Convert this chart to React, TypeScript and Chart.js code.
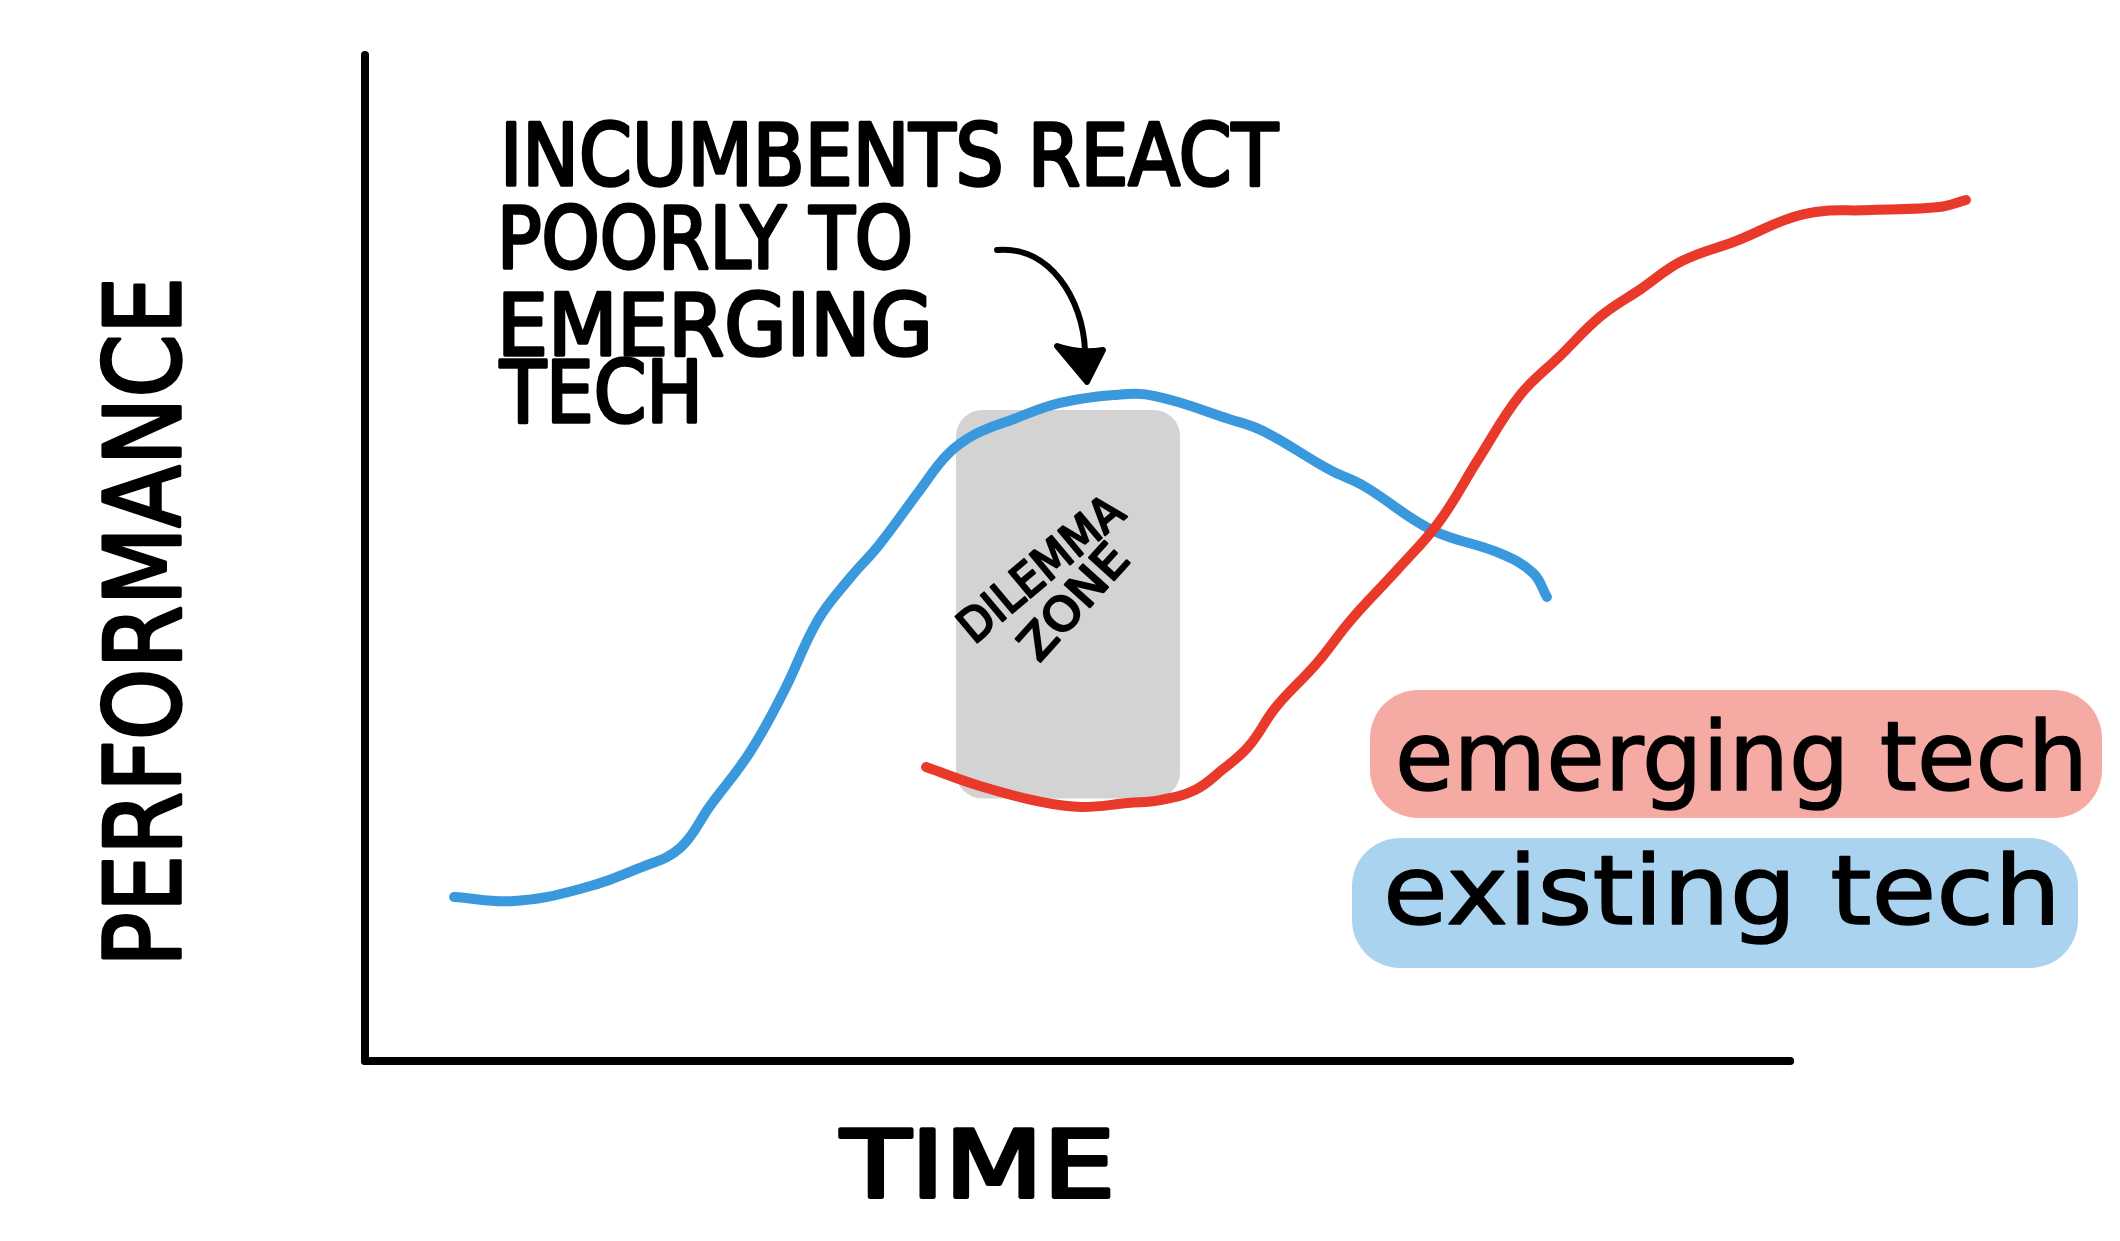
import React, { useEffect, useRef } from "react";
import { Chart, registerables } from "chart.js";

Chart.register(...registerables);

// ---- data (x: time units 0..100, y: performance units 0..100) ----
const existingX = [5.43, 9.09, 13.11, 16.89, 19.21, 21.04, 23.48, 25.55, 27.62, 29.57, 31.34, 33.84, 35.49, 37.13, 39.57, 42.38, 45.67, 48.17, 52.68, 54.76, 58.84, 60.91, 65.06, 69.15, 71.22, 72.07];
const existingY = [16.3, 15.9, 17.1, 19.28, 21.17, 25.35, 30.72, 36.78, 43.84, 48.01, 51.29, 56.76, 60.24, 62.23, 63.82, 65.41, 66.2, 66.1, 63.82, 62.62, 58.75, 57.16, 52.78, 50.5, 48.51, 46.12];

const emergingX = [34.21, 37.5, 41.22, 43.72, 46.52, 48.48, 50.61, 52.26, 53.9, 55.55, 58.05, 60.12, 62.99, 65.49, 67.93, 70.43, 72.87, 75.37, 77.8, 80.3, 83.6, 87.74, 91.83, 95.98, 97.62];
const emergingY = [29.22, 27.34, 25.75, 25.25, 25.65, 25.94, 26.94, 28.93, 31.31, 35.19, 39.56, 43.84, 48.91, 53.58, 59.94, 66.2, 70.08, 74.06, 76.74, 79.52, 81.51, 84.19, 84.59, 84.89, 85.59];

const seriesLabels = ["emerging tech", "existing tech"];
const seriesColors = ["#e8392b", "#3a98dc"];

const dilemmaZoneX = [36.04, 49.7];
const dilemmaZoneY = [26.1, 64.7];

const axisEndX = 86.9;
const axisTopY = 100;

// arrow: start, control1, control2, end, tip, left base, right base
const arrowX = [38.54, 41.77, 43.78, 43.9, 44.02, 42.2, 45.0];
const arrowY = [80.62, 81.11, 75.65, 70.68, 67.5, 71.07, 70.68];

const annotationLines = ["INCUMBENTS REACT", "POORLY TO", "EMERGING", "TECH"];
const zoneLabel = ["DILEMMA", "ZONE"];
const yTitle = "PERFORMANCE";
const xTitle = "TIME";

const toPoints = (xs: number[], ys: number[]) => xs.map((x, i) => ({ x, y: ys[i] }));

function hexToRgba(hex: string, a: number) {
  const n = parseInt(hex.slice(1), 16);
  return `rgba(${(n >> 16) & 255},${(n >> 8) & 255},${n & 255},${a})`;
}

function fitText(
  ctx: CanvasRenderingContext2D,
  text: string,
  x: number,
  y: number,
  width: number,
  font: string,
  strokeW: number,
  rotate = 0,
  center = false,
  capH = 0
) {
  ctx.save();
  ctx.font = font;
  ctx.fillStyle = "#000";
  ctx.strokeStyle = "#000";
  ctx.lineJoin = "round";
  ctx.lineCap = "round";
  const w = ctx.measureText(text).width;
  ctx.translate(x, y);
  if (rotate) ctx.rotate(rotate);
  ctx.scale(width / w, 1);
  ctx.textAlign = center ? "center" : "left";
  ctx.textBaseline = "alphabetic";
  const ty = center ? capH / 2 : 0;
  ctx.fillText(text, 0, ty);
  if (strokeW > 0) {
    ctx.lineWidth = strokeW;
    ctx.strokeText(text, 0, ty);
  }
  ctx.restore();
}

const FONT = "'DejaVu Sans'";

const sketchPlugin = {
  id: "sketch",
  beforeDatasetsDraw(chart: any) {
    const { ctx, scales } = chart;
    const xs = scales.x, ys = scales.y;
    const x0 = xs.getPixelForValue(dilemmaZoneX[0]);
    const x1 = xs.getPixelForValue(dilemmaZoneX[1]);
    const y0 = ys.getPixelForValue(dilemmaZoneY[1]);
    const y1 = ys.getPixelForValue(dilemmaZoneY[0]);
    ctx.save();
    ctx.fillStyle = "#d3d3d3";
    ctx.beginPath();
    (ctx as any).roundRect(x0, y0, x1 - x0, y1 - y0, 26);
    ctx.fill();
    ctx.restore();
    // zone label
    fitText(ctx, zoneLabel[0], 1040, 568, 200, `46px ${FONT}`, 2.5, (-40 * Math.PI) / 180, true, 33);
    fitText(ctx, zoneLabel[1], 1073, 601, 138, `46px ${FONT}`, 2.5, (-48 * Math.PI) / 180, true, 33);
  },
  afterDatasetsDraw(chart: any) {
    const { ctx, scales } = chart;
    const xs = scales.x, ys = scales.y;
    const P = (i: number) => [xs.getPixelForValue(arrowX[i]), ys.getPixelForValue(arrowY[i])];
    // arrow
    ctx.save();
    ctx.strokeStyle = "#000";
    ctx.fillStyle = "#000";
    ctx.lineWidth = 6;
    ctx.lineCap = "round";
    ctx.lineJoin = "round";
    const [sx, sy] = P(0), [c1x, c1y] = P(1), [c2x, c2y] = P(2), [ex, ey] = P(3);
    ctx.beginPath();
    ctx.moveTo(sx, sy);
    ctx.bezierCurveTo(c1x, c1y, c2x, c2y, ex, ey);
    ctx.stroke();
    const [tx, ty] = P(4), [lx, ly] = P(5), [rx, ry] = P(6);
    ctx.beginPath();
    ctx.moveTo(tx, ty);
    ctx.lineTo(lx, ly);
    ctx.quadraticCurveTo((lx + rx) / 2, (ly + ry) / 2 + 6, rx, ry);
    ctx.closePath();
    ctx.fill();
    ctx.stroke();
    ctx.restore();

    // annotation text
    const f = `86px ${FONT}`;
    fitText(ctx, annotationLines[0], 500, 185, 778, f, 3.5);
    fitText(ctx, annotationLines[1], 497, 268, 416, f, 3.5);
    fitText(ctx, annotationLines[2], 497, 355, 436, f, 3.5);
    fitText(ctx, annotationLines[3], 500, 422, 203, f, 3.5);

    // axis titles
    fitText(ctx, yTitle, 180, 967, 690, `106px ${FONT}`, 3.5, -Math.PI / 2);
    fitText(ctx, xTitle, 841, 1197, 274, `92px ${FONT}`, 4);

    // legend pills
    const pills = [
      { x: 1370, y: 690, w: 732, h: 128, tx: 1395, ty: 790, tw: 693 },
      { x: 1352, y: 838, w: 726, h: 130, tx: 1383, ty: 924, tw: 678 },
    ];
    pills.forEach((p, i) => {
      ctx.save();
      ctx.fillStyle = hexToRgba(seriesColors[i], 0.43);
      ctx.beginPath();
      (ctx as any).roundRect(p.x, p.y, p.w, p.h, 48);
      ctx.fill();
      ctx.restore();
      fitText(ctx, seriesLabels[i], p.tx, p.ty, p.tw, `96px ${FONT}`, 1.5);
    });
  },
};

export default function App() {
  const ref = useRef<HTMLCanvasElement | null>(null);
  useEffect(() => {
    if (!ref.current) return;
    const chart = new Chart(ref.current, {
      type: "line",
      data: {
        datasets: [
          {
            label: seriesLabels[0],
            data: toPoints(emergingX, emergingY),
            borderColor: seriesColors[0],
            borderWidth: 10,
            tension: 0.4,
            pointRadius: 0,
            borderCapStyle: "round",
            borderJoinStyle: "round",
            clip: false,
          },
          {
            label: seriesLabels[1],
            data: toPoints(existingX, existingY),
            borderColor: seriesColors[1],
            borderWidth: 10,
            tension: 0.4,
            pointRadius: 0,
            borderCapStyle: "round",
            borderJoinStyle: "round",
            clip: false,
          },
          {
            label: "x-axis",
            data: [{ x: 0, y: 0 }, { x: axisEndX, y: 0 }],
            borderColor: "#000",
            borderWidth: 8,
            pointRadius: 0,
            borderCapStyle: "round",
            clip: false,
          },
          {
            label: "y-axis",
            data: [{ x: 0, y: 0 }, { x: 0, y: axisTopY }],
            borderColor: "#000",
            borderWidth: 8,
            pointRadius: 0,
            borderCapStyle: "round",
            clip: false,
          },
        ],
      } as any,
      options: {
        animation: false,
        responsive: false,
        devicePixelRatio: 1,
        layout: { padding: { left: 365, right: 115, top: 55, bottom: 180 } },
        plugins: { legend: { display: false }, tooltip: { enabled: false }, title: { display: false } },
        scales: {
          x: { type: "linear", min: 0, max: 100, display: false },
          y: { type: "linear", min: 0, max: 100, display: false },
        },
        events: [],
      } as any,
      plugins: [sketchPlugin],
    });
    return () => chart.destroy();
  }, []);
  return (
    <div style={{ position: "absolute", left: 0, top: 0, width: 2120, height: 1241, background: "#fff" }}>
      <canvas ref={ref} width={2120} height={1241} style={{ display: "block", width: 2120, height: 1241 }} />
    </div>
  );
}
